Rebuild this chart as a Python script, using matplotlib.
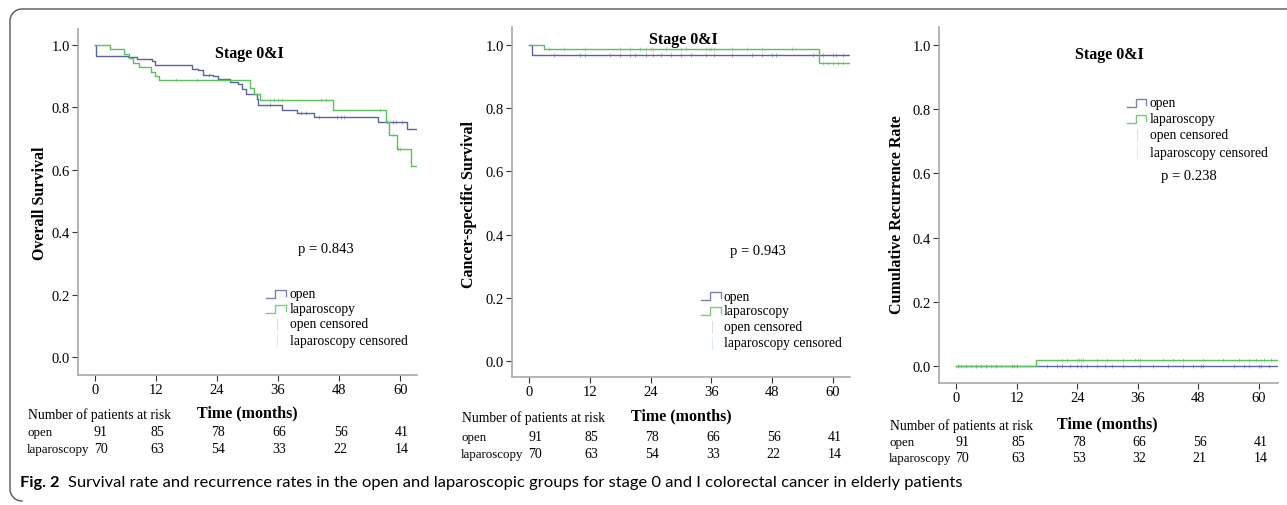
import numpy as np
import matplotlib
matplotlib.use("Agg")
import matplotlib.pyplot as plt
from matplotlib.transforms import blended_transform_factory

# values
months = [0, 12, 24, 36, 48, 60]

os_open_t = [0, 0.2, 6.6, 8.2, 11.2, 11.8, 19.0, 20.3, 21.3, 23.3, 24.3, 26.6, 28.2, 28.9, 29.8, 31.8, 32.1, 36.7, 39.7, 43.1, 55.7, 61.3]
os_open_s = [1.0, 0.966, 0.960, 0.955, 0.950, 0.936, 0.923, 0.918, 0.904, 0.900, 0.891, 0.882, 0.875, 0.859, 0.843, 0.827, 0.806, 0.792, 0.781, 0.768, 0.752, 0.731]
os_lap_t = [0, 3.0, 5.8, 6.8, 7.5, 8.7, 11.1, 11.8, 12.7, 30.5, 31.3, 32.5, 46.8, 57.2, 57.8, 59.4, 62.1]
os_lap_s = [1.0, 0.986, 0.971, 0.957, 0.943, 0.929, 0.914, 0.900, 0.886, 0.862, 0.843, 0.822, 0.790, 0.752, 0.712, 0.667, 0.613]
os_open_cens = [22.5, 34.5, 40.5, 41.5, 44.0, 47.5, 48.3, 49.0, 57.5, 58.5, 59.2, 60.3]
os_lap_cens = [16.0, 20.0, 24.0, 25.5, 34.5, 35.2, 36.0, 36.8, 44.5, 45.5, 56.0, 58.5, 59.5, 60.0]

css_open_t = [0, 0.5]
css_open_s = [1.0, 0.969]
css_lap_t = [0, 3.0, 57.3]
css_lap_s = [1.0, 0.986, 0.942]
css_open_cens = [5, 10, 11, 16, 18, 20, 21, 23, 24.5, 26, 28, 30, 32, 35, 36.5, 40, 44, 46, 48, 48.8, 56, 58, 60, 60.5, 62]
css_lap_cens = [4, 7, 11, 18, 20, 22, 23, 24, 24.5, 27, 30, 31, 35, 35.5, 36, 36.5, 40, 43, 46, 52, 58, 59, 60, 61, 62]

rec_open_t = [0]
rec_open_s = [0.0]
rec_lap_t = [0, 15.8]
rec_lap_s = [0.0, 0.0185]
rec_open_cens = [0.3, 2, 4, 6, 8, 11, 12, 18, 20, 21, 22.5, 24, 24.8, 26, 28, 29.5, 31, 33, 36.5, 39, 42, 45, 47, 48.5, 49, 55, 57, 58, 60, 60.5, 62]
rec_lap_cens = [1, 3, 5, 7, 9, 11.5, 12, 21, 22, 24, 24.3, 24.8, 25.2, 28, 30, 33, 35.5, 36, 36.5, 41, 43, 45, 49, 53, 56, 58, 59.5, 61, 62.5]

risk_open = [91, 85, 78, 66, 56, 41]
risk_lap = [70, 63, 54, 33, 22, 14]
risk_lap_rec = [70, 63, 53, 32, 21, 14]

y_labels = ["Overall Survival", "Cancer-specific Survival", "Cumulative Recurrence Rate"]
p_values = ["p = 0.843", "p = 0.943", "p = 0.238"]

BLUE = "#5a62a6"
GREEN = "#5cc05c"
SERIF = "Liberation Serif"

W, H = 1287, 506
fig = plt.figure(figsize=(W / 100, H / 100), dpi=100)


def fx(x):
    return x / W


def fy(y):
    return 1 - y / H


def km(ax, t, s, cens, tmax, color):
    tt = np.append(t, tmax)
    ss = np.append(s, s[-1])
    ax.step(tt, ss, where="post", color=color, lw=1.0)
    cy = np.array(s)[np.searchsorted(t, cens, side="right") - 1]
    ax.plot(cens, cy, ls="none", marker="|", ms=3.5, mew=0.6, color=color, alpha=0.6)


# panel geometry in pixels
panels = [
    dict(l=78, r=417, t=30, b=376, xlim=(-3.3, 63.3), ylim=(-0.058, 1.051),
         ylab_x=40, ylab_y=203, title=(249, 54), p=(326, 250),
         leg=(266, 287, 290, [295, 310, 325, 341]),
         risk=(28, 413, 433, 450), lap=risk_lap),
    dict(l=512, r=850, t=28, b=378, xlim=(-3.35, 63.35), ylim=(-0.051, 1.057),
         ylab_x=469, ylab_y=205, title=(683, 40), p=(758, 252),
         leg=(701, 722, 724, [297, 312, 328, 344]),
         risk=(462, 416, 438, 455), lap=risk_lap),
    dict(l=939, r=1278, t=28, b=384, xlim=(-3.37, 63.8), ylim=(-0.053, 1.056),
         ylab_x=897, ylab_y=215, title=(1109, 55), p=(1189, 177),
         leg=(1127, 1147, 1150, [104, 120, 136, 153]),
         risk=(890, 424, 443, 459), lap=risk_lap_rec),
]

curves = [
    (os_open_t, os_open_s, os_open_cens, os_lap_t, os_lap_s, os_lap_cens),
    (css_open_t, css_open_s, css_open_cens, css_lap_t, css_lap_s, css_lap_cens),
    (rec_open_t, rec_open_s, rec_open_cens, rec_lap_t, rec_lap_s, rec_lap_cens),
]

for i, (pp, cv) in enumerate(zip(panels, curves)):
    ax = fig.add_axes([fx(pp["l"]), fy(pp["b"]), fx(pp["r"] - pp["l"]), (pp["b"] - pp["t"]) / H])
    ot, os_, oc, lt, ls_, lc = cv
    tmax = pp["xlim"][1]
    km(ax, ot, os_, oc, tmax, BLUE)
    km(ax, lt, ls_, lc, tmax, GREEN)
    ax.set_xlim(*pp["xlim"])
    ax.set_ylim(*pp["ylim"])
    ax.set_xticks(months)
    ax.set_yticks([0, 0.2, 0.4, 0.6, 0.8, 1.0])
    ax.set_yticklabels(["0.0", "0.2", "0.4", "0.6", "0.8", "1.0"])
    for side in ["top", "right"]:
        ax.spines[side].set_visible(False)
    for side in ["left", "bottom"]:
        ax.spines[side].set_color("#a8a8a8")
        ax.spines[side].set_linewidth(1.2)
    ax.tick_params(length=4, width=0.8, color="#333333", labelsize=10.5, pad=2)
    for lab in ax.get_xticklabels() + ax.get_yticklabels():
        lab.set_family(SERIF)
    ax.patch.set_alpha(0)

    tr = blended_transform_factory(ax.transData, fig.transFigure)

    fig.text(fx(pp["ylab_x"]), fy(pp["ylab_y"]), y_labels[i], rotation=90, ha="center", va="center",
             family=SERIF, fontweight="bold", fontsize=11.5)
    fig.text(fx(pp["title"][0]), fy(pp["title"][1]), "Stage 0&I", ha="center", va="center",
             family=SERIF, fontweight="bold", fontsize=11.5)
    fig.text(fx(pp["p"][0]), fy(pp["p"][1]), p_values[i], ha="center", va="center",
             family=SERIF, fontsize=10.5)
    ax.text(30, fy(pp["risk"][1]), "Time (months)", transform=tr, ha="center", va="center",
            family=SERIF, fontweight="bold", fontsize=11.5)

    # legend drawn by hand (SPSS style step handles)
    h0, h1, tx, rows = pp["leg"]
    names = ["open", "laparoscopy", "open censored", "laparoscopy censored"]
    for j, (name, yy) in enumerate(zip(names, rows)):
        fig.text(fx(tx), fy(yy), name, ha="left", va="center", family=SERIF, fontsize=9.8)
        if j < 2:
            col = [BLUE, GREEN][j]
            xs = [h0, h0 + 9, h0 + 9, h1 - 1, h1 - 1]
            ys = [yy + 4, yy + 4, yy - 4, yy - 4, yy + 2]
            fig.add_artist(plt.Line2D([fx(v) for v in xs], [fy(v) for v in ys], color=col, lw=1.0, alpha=0.8))
        else:
            col = [BLUE, GREEN][j - 2]
            xm = h1 - 10
            fig.add_artist(plt.Line2D([fx(xm), fx(xm)], [fy(yy - 6), fy(yy + 6)], color=col, lw=0.6, alpha=0.25))

    # number at risk table
    rx, ry0, ry1, ry2 = pp["risk"]
    fig.text(fx(rx), fy(ry0 + 2), "Number of patients at risk", ha="left", va="center", family=SERIF, fontsize=9.8)
    fig.text(fx(rx - 1), fy(ry1), "open", ha="left", va="center", family=SERIF, fontsize=9.3)
    fig.text(fx(rx - 1), fy(ry2), "laparoscopy", ha="left", va="center", family=SERIF, fontsize=9.3)
    for k, (m, a, b) in enumerate(zip(months, risk_open, pp["lap"])):
        off = 1.2 if k == 0 else 0.3
        ax.text(m + off, fy(ry1), str(a), transform=tr, ha="center", va="center", family=SERIF, fontsize=10)
        ax.text(m + off, fy(ry2), str(b), transform=tr, ha="center", va="center", family=SERIF, fontsize=10)

# caption
fig.text(fx(20), fy(483), "Fig. 2", ha="left", va="center", family="Lato", fontweight="bold", fontsize=11.8)
fig.text(fx(68), fy(483),
         "Survival rate and recurrence rates in the open and laparoscopic groups for stage 0 and I colorectal cancer in elderly patients",
         ha="left", va="center", family="Lato", fontsize=11.85)

# rounded frame: top edge and left edge, in pixel coordinates
rad = 12
ang = np.linspace(np.pi / 2, np.pi, 20)
top_arc_x = 10 + rad + rad * np.cos(ang)
top_arc_y = 10 + rad - rad * np.sin(ang)
ang2 = np.linspace(np.pi, 1.5 * np.pi, 20)
bot_arc_x = 10 + rad + rad * np.cos(ang2)
bot_arc_y = 506 - rad - rad * np.sin(ang2) - 4
frame_x = np.concatenate([[W], top_arc_x, bot_arc_x])
frame_y = np.concatenate([[10], top_arc_y, bot_arc_y])
fig.add_artist(plt.Line2D(fx(frame_x), fy(frame_y), color="#555555", lw=1.0))

fig.savefig("out.png", dpi=100)
